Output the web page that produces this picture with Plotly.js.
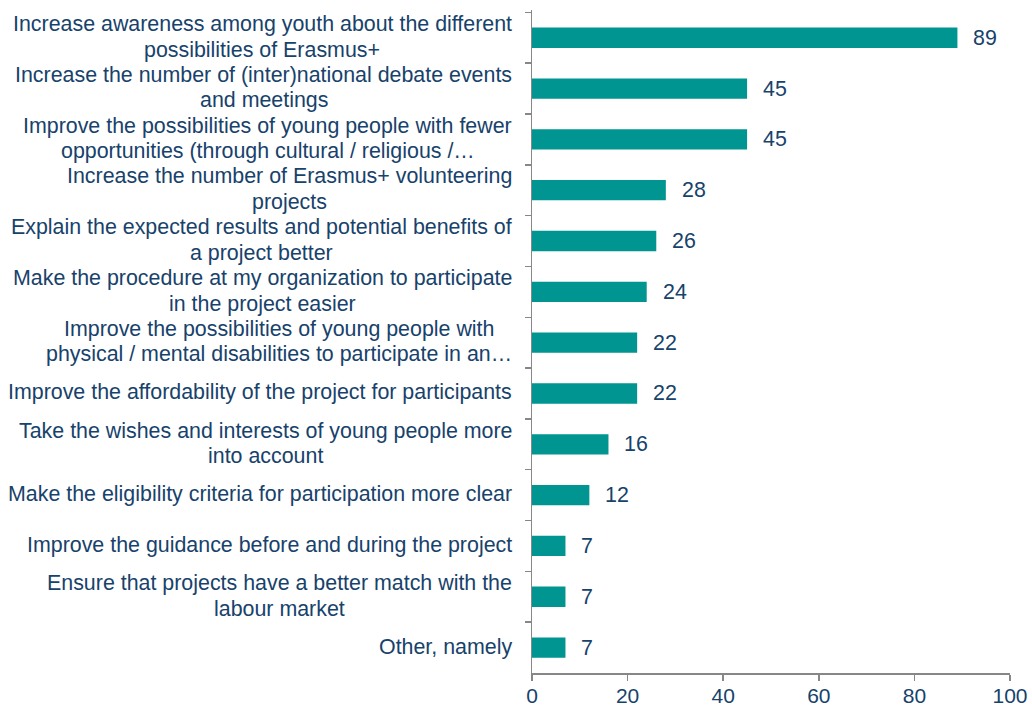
<!DOCTYPE html>
<html>
<head>
<meta charset="utf-8">
<script src="https://cdn.plot.ly/plotly-3.0.1.min.js"></script>
<style>html,body{margin:0;padding:0;background:#fff;}#chart{width:1032px;height:709px;}</style>
</head>
<body>
<div id="chart"></div>
<script>
const categories = [
  "Increase awareness among youth about the different<br>possibilities of Erasmus+",
  "Increase the number of (inter)national debate events<br>and meetings",
  "Improve the possibilities of young people with fewer<br>opportunities (through cultural / religious /…",
  "Increase the number of Erasmus+ volunteering<br>projects",
  "Explain the expected results and potential benefits of<br>a project better",
  "Make the procedure at my organization to participate<br>in the project easier",
  "Improve the possibilities of young people with<br>physical / mental disabilities to participate in an…",
  "Improve the affordability of the project for participants",
  "Take the wishes and interests of young people more<br>into account",
  "Make the eligibility criteria for participation more clear",
  "Improve the guidance before and during the project",
  "Ensure that projects have a better match with the<br>labour market",
  "Other, namely"
];
const values = [89, 45, 45, 28, 26, 24, 22, 22, 16, 12, 7, 7, 7];
const xTicks = [0, 20, 40, 60, 80, 100];

const textColor = "#17426b";
const font = {family: "Liberation Sans, Arial, sans-serif", size: 21.4, color: textColor};
const tickFont = {family: "Liberation Sans, Arial, sans-serif", size: 21, color: textColor};
const labelShift = -18;

const annotations = [];
categories.forEach((c, i) => {
  const lines = c.split("<br>");
  const lh = 25.5;
  lines.forEach((ln, j) => {
    const off = (j - (lines.length - 1) / 2) * lh;
    annotations.push({
      x: 0, y: c, xref: "x", yref: "y", text: ln, showarrow: false,
      xanchor: "right", yanchor: "middle", xshift: labelShift, yshift: -off + 1,
      font: font, align: "center"
    });
  });
  annotations.push({
    x: values[i], y: c, xref: "x", yref: "y", text: String(values[i]), showarrow: false,
    xanchor: "left", yanchor: "middle", xshift: 14, font: font
  });
});

const data = [{
  type: "bar", orientation: "h", y: categories, x: values,
  marker: {color: "#009590"}, hoverinfo: "none"
}];

const layout = {
  width: 1032, height: 709,
  margin: {l: 532, r: 22, t: 10, b: 36},
  paper_bgcolor: "#fff", plot_bgcolor: "#fff",
  showlegend: false, bargap: 0.6,
  font: font,
  xaxis: {
    range: [0, 100], tickvals: xTicks, ticktext: xTicks.map(String),
    showgrid: false, zeroline: false, showline: true, linecolor: "#878787", linewidth: 1.5,
    ticks: "outside", ticklen: 6, tickcolor: "#878787", tickwidth: 1.5,
    tickfont: tickFont, ticklabelstandoff: -3, fixedrange: true
  },
  yaxis: {
    type: "category", autorange: "reversed", showticklabels: false,
    showgrid: false, zeroline: false, showline: true, linecolor: "#878787", linewidth: 1.5,
    ticks: "outside", tickson: "boundaries", ticklen: 6, tickcolor: "#878787", tickwidth: 1.5,
    fixedrange: true
  },
  annotations: annotations
};

Plotly.newPlot("chart", data, layout, {displayModeBar: false, staticPlot: true}).then(() => {
  // Centre the lines of each multi-line label over the widest line of its block
  const gd = document.getElementById("chart");
  const groups = {};
  gd.layout.annotations.forEach((a, k) => {
    if (a.xanchor === "right") { (groups[a.y] = groups[a.y] || []).push(k); }
  });
  const newShifts = {};
  Object.values(groups).forEach(idx => {
    if (idx.length < 2) return;
    const nodes = idx.map(k => gd.querySelector('.annotation[data-index="' + k + '"] text'));
    const widths = nodes.map(n => n ? n.getComputedTextLength() : 0);
    const maxW = Math.max.apply(null, widths);
    idx.forEach((k, j) => {
      newShifts["annotations[" + k + "].xshift"] = labelShift - (maxW - widths[j]) / 2;
    });
  });
  return Plotly.relayout(gd, newShifts);
});
</script>
</body>
</html>
